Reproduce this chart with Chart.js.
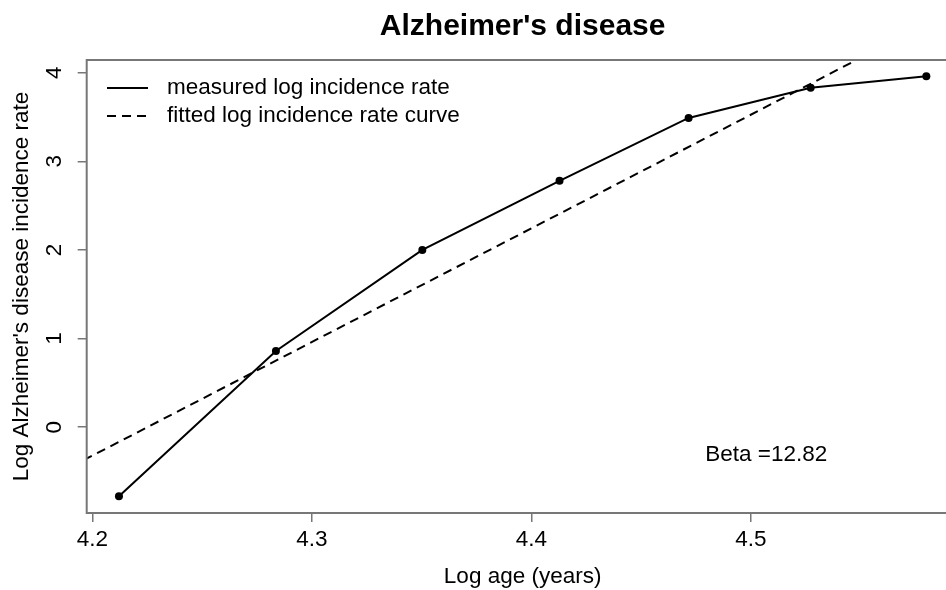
<!DOCTYPE html>
<html>
<head>
<meta charset="utf-8">
<script src="https://cdn.jsdelivr.net/npm/chart.js@4/dist/chart.umd.min.js"></script>
<style>
  html, body { margin: 0; padding: 0; background: #fff; overflow: hidden; }
  canvas { display: block; }
</style>
</head>
<body>
<canvas id="chart" width="980" height="590"></canvas>
<script>
// log of age-group midpoints and measured log incidence
const logAge = [4.2121, 4.2836, 4.3503, 4.4128, 4.4716, 4.5272, 4.5799]
const measured = [-0.78, 0.86, 2.00, 2.78, 3.49, 3.83, 3.96]
// fitted straight line, read at its two ends
const fitAge = [4.19, 4.60]
const fitted = [-0.45, 4.81]
const xTicks = [4.2, 4.3, 4.4, 4.5]
const yTicks = [0, 1, 2, 3, 4]
const betaLabel = 'Beta =12.82'

const FONT = 'Liberation Sans, Arial, Helvetica, sans-serif'
const AXIS_GREY = '#777'

const frame = {
  id: 'frame',
  afterDraw(chart) {
    const { ctx, chartArea: a, scales } = chart
    ctx.save()
    // plot box
    ctx.strokeStyle = AXIS_GREY
    ctx.lineWidth = 2
    ctx.strokeRect(a.left, a.top, a.right - a.left, a.bottom - a.top)

    // y tick labels, rotated like R's default
    ctx.fillStyle = '#000'
    ctx.font = '22.5px ' + FONT
    ctx.textAlign = 'center'
    ctx.textBaseline = 'middle'
    yTicks.forEach(v => {
      ctx.save()
      ctx.translate(55, scales.y.getPixelForValue(v))
      ctx.rotate(-Math.PI / 2)
      ctx.fillText(String(v), 0, 0)
      ctx.restore()
    })

    // legend
    const ds = chart.data.datasets
    ctx.textAlign = 'left'
    ds.forEach((d, i) => {
      const y = 88 + i * 28
      ctx.strokeStyle = '#000'
      ctx.lineWidth = 2
      ctx.setLineDash(d.borderDash || [])
      ctx.beginPath()
      ctx.moveTo(107, y)
      ctx.lineTo(148, y)
      ctx.stroke()
      ctx.setLineDash([])
      ctx.fillText(d.label, 167, y)
    })

    // beta annotation
    ctx.textAlign = 'center'
    ctx.fillText(betaLabel, scales.x.getPixelForValue(4.507), scales.y.getPixelForValue(-0.315))
    ctx.restore()
  }
}

new Chart(document.getElementById('chart').getContext('2d'), {
  type: 'scatter',
  data: {
    datasets: [
      {
        label: 'measured log incidence rate',
        data: logAge.map((x, i) => ({ x: x, y: measured[i] })),
        showLine: true,
        borderColor: '#000',
        backgroundColor: '#000',
        borderWidth: 2,
        pointRadius: 4,
        pointBorderWidth: 0,
        pointHoverRadius: 4
      },
      {
        label: 'fitted log incidence rate curve',
        data: fitAge.map((x, i) => ({ x: x, y: fitted[i] })),
        showLine: true,
        borderColor: '#000',
        borderWidth: 2,
        borderDash: [9, 6],
        pointRadius: 0
      }
    ]
  },
  options: {
    responsive: false,
    animation: false,
    layout: { padding: { left: 0, right: 21.4, top: 0, bottom: 0 } },
    plugins: {
      legend: { display: false },
      tooltip: { enabled: false },
      title: {
        display: true,
        text: "Alzheimer's disease",
        fullSize: false,
        color: '#000',
        font: { family: FONT, size: 30, weight: 'bold', lineHeight: 1.2 },
        padding: { top: 9, bottom: 15 }
      }
    },
    scales: {
      x: {
        type: 'linear',
        min: 4.1974,
        max: 4.5946,
        afterFit: s => { s.height = 77 },
        afterBuildTicks: s => { s.ticks = xTicks.map(v => ({ value: v })) },
        grid: { drawOnChartArea: false, drawTicks: true, tickLength: 9, color: AXIS_GREY, lineWidth: 1.5 },
        border: { display: false },
        ticks: {
          color: '#000',
          padding: 4,
          maxRotation: 0,
          font: { family: FONT, size: 22.5 },
          callback: v => v.toFixed(1)
        },
        title: {
          display: true,
          text: 'Log age (years)',
          color: '#000',
          font: { family: FONT, size: 22.5, lineHeight: 1.2 },
          padding: { top: 0, bottom: 0 }
        }
      },
      y: {
        type: 'linear',
        min: -0.969,
        max: 4.144,
        afterFit: s => { s.width = 86.7 },
        afterBuildTicks: s => { s.ticks = yTicks.map(v => ({ value: v })) },
        grid: { drawOnChartArea: false, drawTicks: true, tickLength: 9, color: AXIS_GREY, lineWidth: 1.5 },
        border: { display: false },
        ticks: { display: false },
        title: {
          display: true,
          text: "Log Alzheimer's disease incidence rate",
          color: '#000',
          font: { family: FONT, size: 22.5, lineHeight: 1.2 },
          padding: { top: 8.5, bottom: 0 }
        }
      }
    }
  },
  plugins: [frame]
})
</script>
</body>
</html>
